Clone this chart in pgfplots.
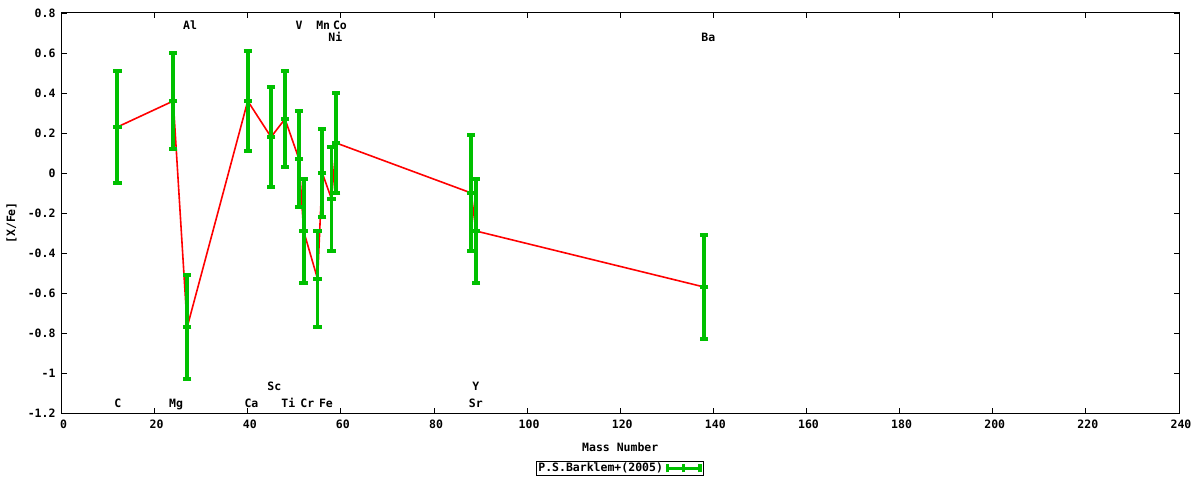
\documentclass[border=0pt]{standalone}
\usepackage{fontspec}
\setmainfont{DejaVu Sans Mono}
\usepackage{pgfplots}
\usepackage{pgfplotstable}
\pgfplotsset{compat=1.18}
\definecolor{gpgreen}{RGB}{0,192,0}
\definecolor{gpred}{RGB}{255,0,0}
\pgfplotstableread{
x y e
12 0.23 0.28
24 0.36 0.24
27 -0.77 0.26
40 0.36 0.25
45 0.18 0.25
48 0.27 0.24
51 0.07 0.24
52 -0.29 0.26
55 -0.53 0.24
56 0.00 0.22
58 -0.13 0.26
59 0.15 0.25
88 -0.10 0.29
89 -0.29 0.26
138 -0.57 0.26
}\data
\begin{document}
\fontsize{11.5}{13}\selectfont\bfseries
\begin{tikzpicture}[x=1pt,y=1pt, el/.style={text height=8.5pt, text depth=0pt, inner sep=0pt, anchor=center}]
\path[use as bounding box] (0,0) rectangle (1200,480);
\begin{axis}[
  at={(61.5pt,67pt)}, anchor=south west,
  scale only axis, width=1117.5pt, height=400pt,
  xmin=0, xmax=240, ymin=-1.2, ymax=0.8,
  xtick={0,20,...,240},
  ytick={-1.2,-1,-0.8,-0.6,-0.4,-0.2,0,0.2,0.4,0.6,0.8},
  /pgf/number format/assume math mode=true,
  yticklabel style={/pgf/number format/fixed, /pgf/number format/precision=1},
  axis line style={black, line width=1pt},
  major tick length=5pt,
  tick style={black, line width=0.8pt},
  xticklabel style={yshift=-3pt, xshift=2pt},
  yticklabel style={xshift=-2pt},
  xlabel={Mass Number},
  ylabel={[X/Fe]},
  xlabel style={at={(axis description cs:0.5,-0.085)}, anchor=center},
  ylabel style={at={(axis description cs:-0.0447,0.475)}, anchor=center},
  legend style={at={(0.5,-0.1385)}, anchor=center, draw=black, line width=0.8pt,
    inner sep=0.5pt, nodes={inner sep=1pt}},
  legend plot pos=right,
  legend image code/.code={
    \draw[gpgreen, line width=3.2pt] (0pt,0pt) -- (36pt,0pt);
    \draw[gpgreen, line width=3.2pt] (1.6pt,-4pt) -- (1.6pt,4pt);
    \draw[gpgreen, line width=3.2pt] (34.4pt,-4pt) -- (34.4pt,4pt);
    \draw[gpgreen, line width=3.2pt] (18pt,-4pt) -- (18pt,4pt);
  },
]
\addplot[gpred, line width=1.6pt, no markers, forget plot] table[x=x,y=y] {\data};
\addplot[gpgreen, only marks, mark=-, mark size=4.2pt, mark options={line width=3.2pt, gpgreen},
  error bars/.cd, y dir=both, y explicit,
  error bar style={line width=3.8pt, gpgreen},
  error mark options={rotate=90, mark size=4.2pt, line width=3.2pt, gpgreen}]
  table[x=x,y=y,y error=e] {\data};
\addlegendentry{P.S.Barklem+(2005)}
\node[el] at (axis cs:27.6,0.737) {Al};
\node[el] at (axis cs:51.0,0.737) {V};
\node[el] at (axis cs:56.2,0.737) {Mn};
\node[el] at (axis cs:59.8,0.737) {Co};
\node[el] at (axis cs:58.8,0.677) {Ni};
\node[el] at (axis cs:138.9,0.677) {Ba};
\node[el] at (axis cs:45.7,-1.068) {Sc};
\node[el] at (axis cs:89.0,-1.068) {Y};
\node[el] at (axis cs:12.1,-1.152) {C};
\node[el] at (axis cs:24.6,-1.152) {Mg};
\node[el] at (axis cs:40.8,-1.152) {Ca};
\node[el] at (axis cs:48.7,-1.152) {Ti};
\node[el] at (axis cs:52.8,-1.152) {Cr};
\node[el] at (axis cs:56.8,-1.152) {Fe};
\node[el] at (axis cs:89.0,-1.152) {Sr};
\end{axis}
\end{tikzpicture}
\end{document}
